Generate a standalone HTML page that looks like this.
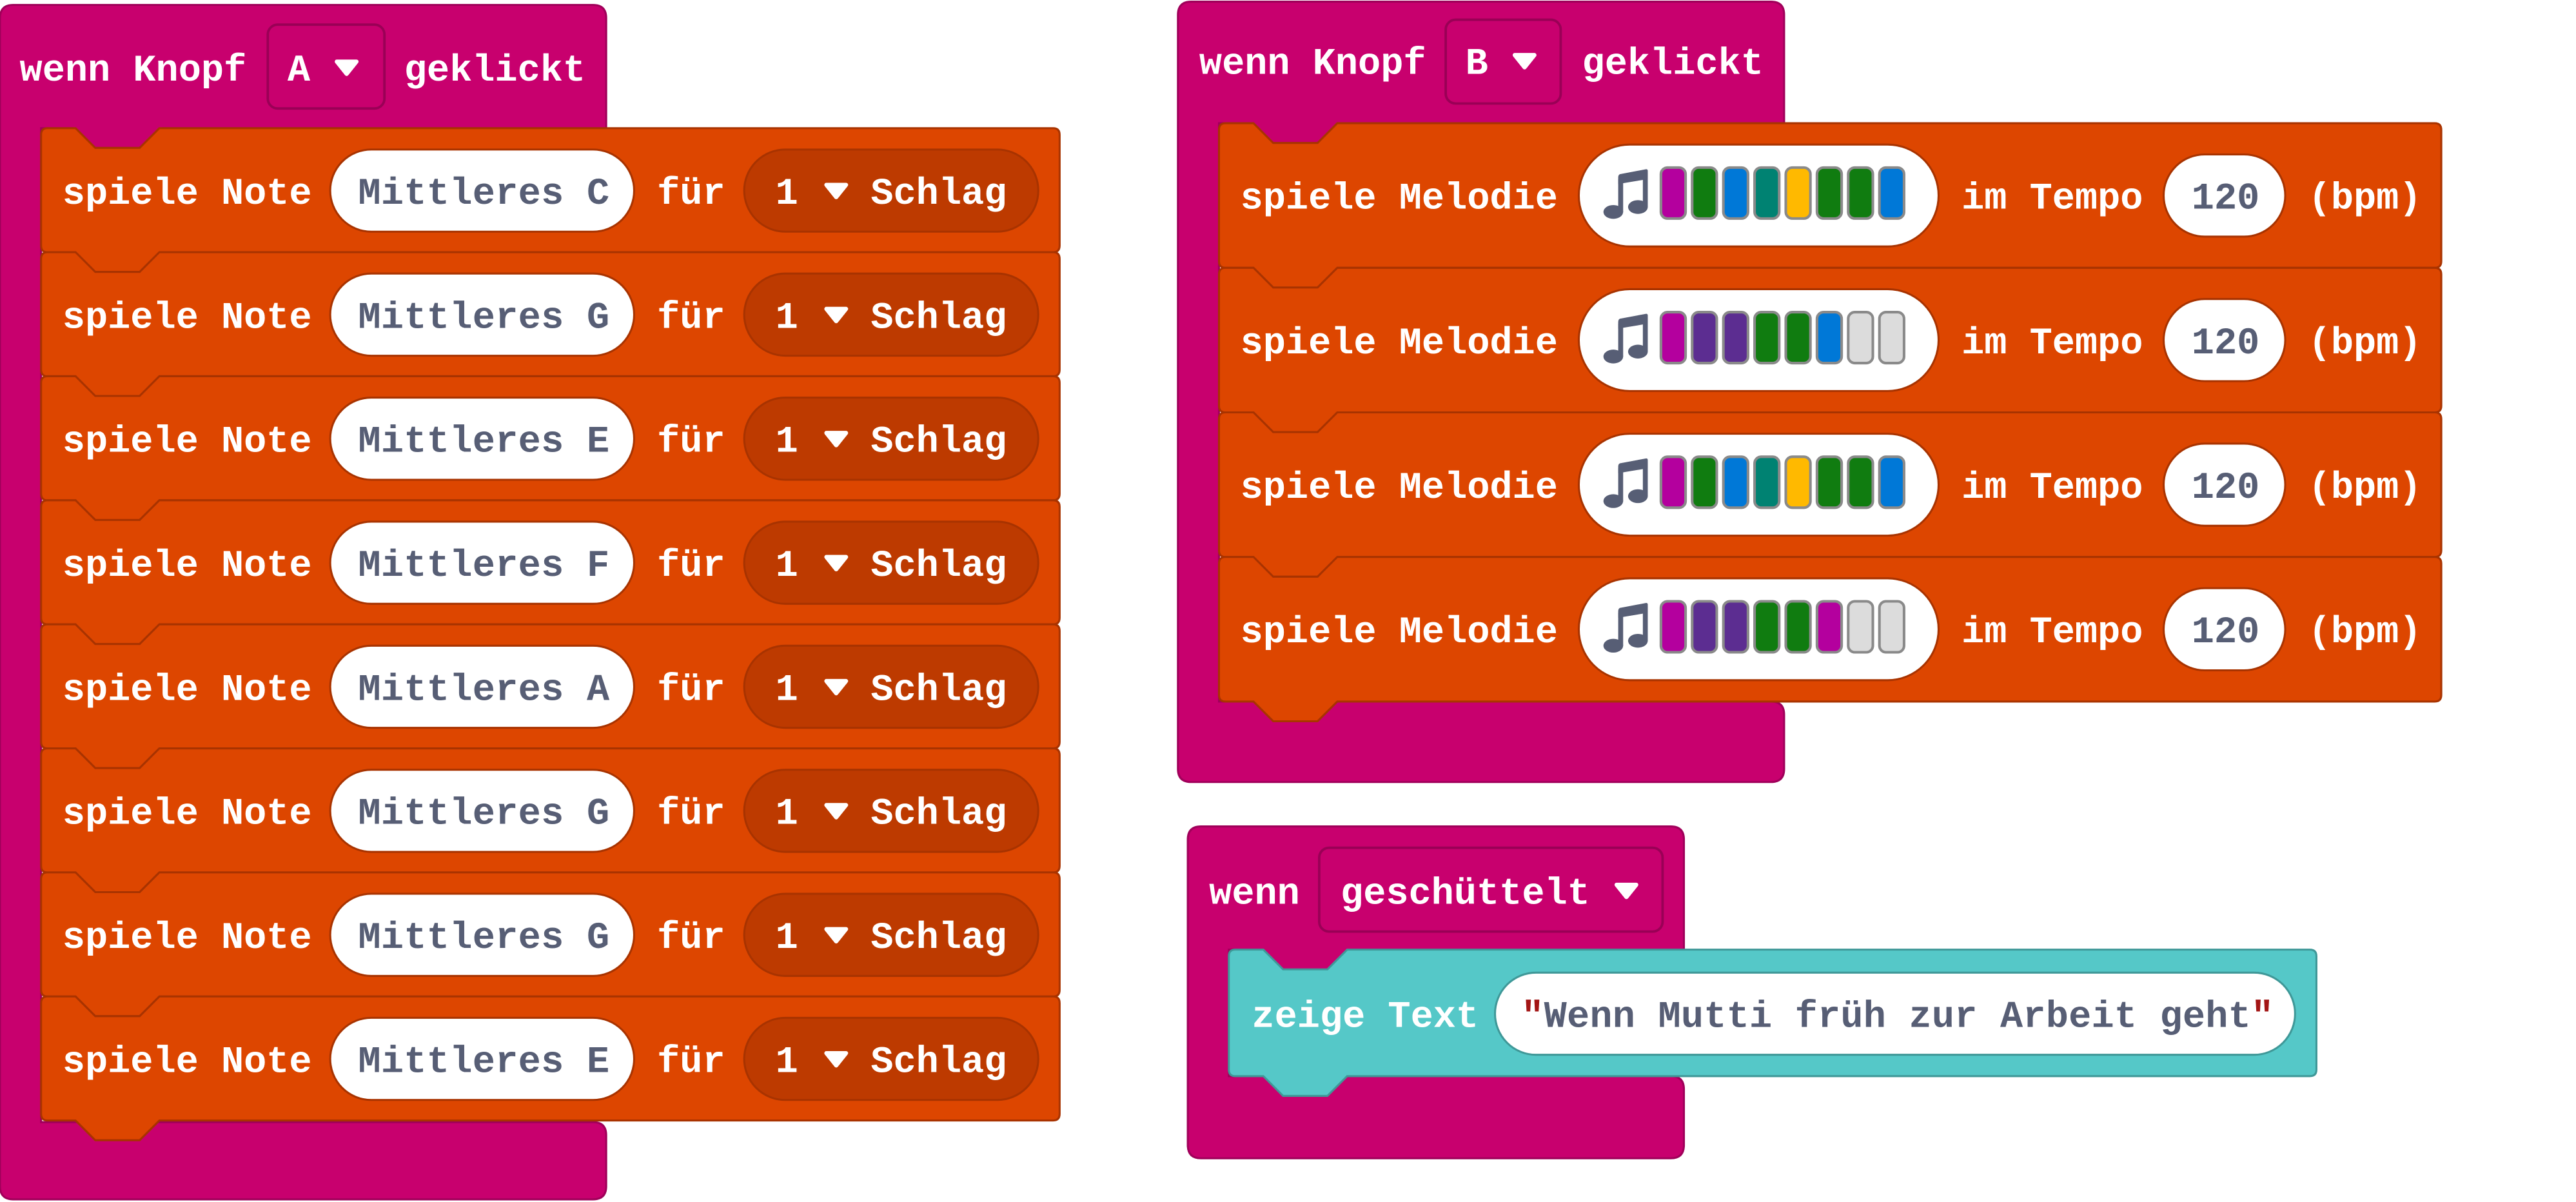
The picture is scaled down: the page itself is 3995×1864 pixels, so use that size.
<!DOCTYPE html>
<html><head><meta charset="utf-8"><style>
html,body{margin:0;padding:0;background:#fff;}
svg{display:block;}
text{font-family:"Liberation Mono","DejaVu Sans Mono",monospace;font-weight:bold;font-size:23px;}
.w{fill:#fff;}
.g{fill:#575e75;}
</style></head><body>
<svg width="3995" height="1864" viewBox="0 0 1568 731.6" preserveAspectRatio="none" xmlns="http://www.w3.org/2000/svg">
<defs>
<path id="nb" d="M0,4 Q0,0 4,0 H21 L33,12 H60 L72,0 H616 Q620,0 620,4 V71.5 Q620,75.5 616,75.5 H72 L60,87.5 H33 L21,75.5 H4 Q0,75.5 0,71.5 Z" fill="#dd4600" stroke="#a83300" stroke-width="1.2"/>
<path id="mb" d="M0,4 Q0,0 4,0 H21 L33,12 H60 L72,0 H740 Q744,0 744,4 V84 Q744,88 740,88 H72 L60,100 H33 L21,88 H4 Q0,88 0,84 Z" fill="#dd4600" stroke="#a83300" stroke-width="1.2"/>
<path id="tri" d="M-6,-3.5 L6,-3.5 L0,4 Z" fill="#fff" stroke="#fff" stroke-width="2.5" stroke-linejoin="round"/>
<g id="note" fill="#575e75">
<ellipse cx="982" cy="-6" rx="6" ry="4.2"/>
<ellipse cx="997" cy="-9" rx="6" ry="4.2"/>
<rect x="985" y="-26" width="3" height="20"/>
<rect x="1000" y="-30" width="3" height="21"/>
<path d="M985,-23 L1003,-26 L1003,-31 Q1003,-32 1002,-32 L986,-29 Q985,-28.5 985,-27 Z"/>
</g>
</defs>

<!-- Block A -->
<path d="M0,11 Q0,3 8,3 H361 Q369,3 369,11 V78 H25 V683 H361 Q369,683 369,691 V722 Q369,730 361,730 H8 Q0,730 0,722 Z" fill="#c8006e" stroke="#a0005a" stroke-width="1.2"/>
<path d="M44,77 L58,91 H87 L99,77 Z" fill="#c8006e"/>
<text x="12" y="49" class="w">wenn Knopf</text>
<rect x="163" y="15" width="71" height="51" rx="6" fill="#c8006e" stroke="#9a0056" stroke-width="1.5"/>
<text x="175" y="49" class="w">A</text>
<use href="#tri" x="211" y="41"/>
<text x="246" y="49" class="w">geklickt</text>

<g>
<use href="#nb" x="25" y="78"/>
<use href="#nb" x="25" y="153.5"/>
<use href="#nb" x="25" y="229"/>
<use href="#nb" x="25" y="304.5"/>
<use href="#nb" x="25" y="380"/>
<use href="#nb" x="25" y="455.5"/>
<use href="#nb" x="25" y="531"/>
<use href="#nb" x="25" y="606.5"/>
</g>

<g>
<text x="38" y="124" class="w">spiele Note</text>
<rect x="201" y="91" width="185" height="50" rx="25" fill="#fff" stroke="#a83300" stroke-width="1.2"/>
<text x="218" y="124" class="g" textLength="153">Mittleres C</text>
<text x="400" y="124" class="w">für</text>
<rect x="453" y="91" width="179" height="50" rx="25" fill="#bd3a00" stroke="#a83300" stroke-width="1.2"/>
<text x="472" y="124" class="w">1</text><use href="#tri" x="509" y="116"/>
<text x="530" y="124" class="w">Schlag</text>
</g>
<g transform="translate(0,75.5)">
<text x="38" y="124" class="w">spiele Note</text>
<rect x="201" y="91" width="185" height="50" rx="25" fill="#fff" stroke="#a83300" stroke-width="1.2"/>
<text x="218" y="124" class="g" textLength="153">Mittleres G</text>
<text x="400" y="124" class="w">für</text>
<rect x="453" y="91" width="179" height="50" rx="25" fill="#bd3a00" stroke="#a83300" stroke-width="1.2"/>
<text x="472" y="124" class="w">1</text><use href="#tri" x="509" y="116"/>
<text x="530" y="124" class="w">Schlag</text>
</g>
<g transform="translate(0,151)">
<text x="38" y="124" class="w">spiele Note</text>
<rect x="201" y="91" width="185" height="50" rx="25" fill="#fff" stroke="#a83300" stroke-width="1.2"/>
<text x="218" y="124" class="g" textLength="153">Mittleres E</text>
<text x="400" y="124" class="w">für</text>
<rect x="453" y="91" width="179" height="50" rx="25" fill="#bd3a00" stroke="#a83300" stroke-width="1.2"/>
<text x="472" y="124" class="w">1</text><use href="#tri" x="509" y="116"/>
<text x="530" y="124" class="w">Schlag</text>
</g>
<g transform="translate(0,226.5)">
<text x="38" y="124" class="w">spiele Note</text>
<rect x="201" y="91" width="185" height="50" rx="25" fill="#fff" stroke="#a83300" stroke-width="1.2"/>
<text x="218" y="124" class="g" textLength="153">Mittleres F</text>
<text x="400" y="124" class="w">für</text>
<rect x="453" y="91" width="179" height="50" rx="25" fill="#bd3a00" stroke="#a83300" stroke-width="1.2"/>
<text x="472" y="124" class="w">1</text><use href="#tri" x="509" y="116"/>
<text x="530" y="124" class="w">Schlag</text>
</g>
<g transform="translate(0,302)">
<text x="38" y="124" class="w">spiele Note</text>
<rect x="201" y="91" width="185" height="50" rx="25" fill="#fff" stroke="#a83300" stroke-width="1.2"/>
<text x="218" y="124" class="g" textLength="153">Mittleres A</text>
<text x="400" y="124" class="w">für</text>
<rect x="453" y="91" width="179" height="50" rx="25" fill="#bd3a00" stroke="#a83300" stroke-width="1.2"/>
<text x="472" y="124" class="w">1</text><use href="#tri" x="509" y="116"/>
<text x="530" y="124" class="w">Schlag</text>
</g>
<g transform="translate(0,377.5)">
<text x="38" y="124" class="w">spiele Note</text>
<rect x="201" y="91" width="185" height="50" rx="25" fill="#fff" stroke="#a83300" stroke-width="1.2"/>
<text x="218" y="124" class="g" textLength="153">Mittleres G</text>
<text x="400" y="124" class="w">für</text>
<rect x="453" y="91" width="179" height="50" rx="25" fill="#bd3a00" stroke="#a83300" stroke-width="1.2"/>
<text x="472" y="124" class="w">1</text><use href="#tri" x="509" y="116"/>
<text x="530" y="124" class="w">Schlag</text>
</g>
<g transform="translate(0,453)">
<text x="38" y="124" class="w">spiele Note</text>
<rect x="201" y="91" width="185" height="50" rx="25" fill="#fff" stroke="#a83300" stroke-width="1.2"/>
<text x="218" y="124" class="g" textLength="153">Mittleres G</text>
<text x="400" y="124" class="w">für</text>
<rect x="453" y="91" width="179" height="50" rx="25" fill="#bd3a00" stroke="#a83300" stroke-width="1.2"/>
<text x="472" y="124" class="w">1</text><use href="#tri" x="509" y="116"/>
<text x="530" y="124" class="w">Schlag</text>
</g>
<g transform="translate(0,528.5)">
<text x="38" y="124" class="w">spiele Note</text>
<rect x="201" y="91" width="185" height="50" rx="25" fill="#fff" stroke="#a83300" stroke-width="1.2"/>
<text x="218" y="124" class="g" textLength="153">Mittleres E</text>
<text x="400" y="124" class="w">für</text>
<rect x="453" y="91" width="179" height="50" rx="25" fill="#bd3a00" stroke="#a83300" stroke-width="1.2"/>
<text x="472" y="124" class="w">1</text><use href="#tri" x="509" y="116"/>
<text x="530" y="124" class="w">Schlag</text>
</g>

<!-- Block B -->
<path d="M717,9 Q717,1 725,1 H1078 Q1086,1 1086,9 V75 H742 V427 H1078 Q1086,427 1086,435 V468 Q1086,476 1078,476 H725 Q717,476 717,468 Z" fill="#c8006e" stroke="#a0005a" stroke-width="1.2"/>
<path d="M761,74 L775,88 H804 L816,74 Z" fill="#c8006e"/>
<text x="730" y="45" class="w">wenn Knopf</text>
<rect x="880" y="12" width="70" height="51" rx="6" fill="#c8006e" stroke="#9a0056" stroke-width="1.5"/>
<text x="892" y="45" class="w">B</text>
<use href="#tri" x="928" y="37"/>
<text x="963" y="45" class="w">geklickt</text>

<use href="#mb" x="742" y="75"/>
<use href="#mb" x="742" y="163"/>
<use href="#mb" x="742" y="251"/>
<use href="#mb" x="742" y="339"/>

<g>
<text x="755" y="127" class="w">spiele Melodie</text>
<rect x="961" y="88" width="219" height="62" rx="31" fill="#fff" stroke="#a83300" stroke-width="1.2"/>
<use href="#note" y="135"/>
<g stroke="#8a8a8a" stroke-width="1.6">
<rect x="1011" y="102" width="15" height="31" rx="4" fill="#b4009e"/>
<rect x="1030" y="102" width="15" height="31" rx="4" fill="#107c10"/>
<rect x="1049" y="102" width="15" height="31" rx="4" fill="#0078d7"/>
<rect x="1068" y="102" width="15" height="31" rx="4" fill="#008272"/>
<rect x="1087" y="102" width="15" height="31" rx="4" fill="#ffb900"/>
<rect x="1106" y="102" width="15" height="31" rx="4" fill="#107c10"/>
<rect x="1125" y="102" width="15" height="31" rx="4" fill="#107c10"/>
<rect x="1144" y="102" width="15" height="31" rx="4" fill="#0078d7"/>
</g>
<text x="1194" y="127" class="w">im Tempo</text>
<rect x="1317" y="94" width="74" height="50" rx="25" fill="#fff" stroke="#a83300" stroke-width="1.2"/>
<text x="1334" y="127" class="g">120</text>
<text x="1405" y="127" class="w">(bpm)</text>
</g>
<g transform="translate(0,88)">
<text x="755" y="127" class="w">spiele Melodie</text>
<rect x="961" y="88" width="219" height="62" rx="31" fill="#fff" stroke="#a83300" stroke-width="1.2"/>
<use href="#note" y="135"/>
<g stroke="#8a8a8a" stroke-width="1.6">
<rect x="1011" y="102" width="15" height="31" rx="4" fill="#b4009e"/>
<rect x="1030" y="102" width="15" height="31" rx="4" fill="#5c2d91"/>
<rect x="1049" y="102" width="15" height="31" rx="4" fill="#5c2d91"/>
<rect x="1068" y="102" width="15" height="31" rx="4" fill="#107c10"/>
<rect x="1087" y="102" width="15" height="31" rx="4" fill="#107c10"/>
<rect x="1106" y="102" width="15" height="31" rx="4" fill="#0078d7"/>
<rect x="1125" y="102" width="15" height="31" rx="4" fill="#dcdcdc"/>
<rect x="1144" y="102" width="15" height="31" rx="4" fill="#dcdcdc"/>
</g>
<text x="1194" y="127" class="w">im Tempo</text>
<rect x="1317" y="94" width="74" height="50" rx="25" fill="#fff" stroke="#a83300" stroke-width="1.2"/>
<text x="1334" y="127" class="g">120</text>
<text x="1405" y="127" class="w">(bpm)</text>
</g>
<g transform="translate(0,176)">
<text x="755" y="127" class="w">spiele Melodie</text>
<rect x="961" y="88" width="219" height="62" rx="31" fill="#fff" stroke="#a83300" stroke-width="1.2"/>
<use href="#note" y="135"/>
<g stroke="#8a8a8a" stroke-width="1.6">
<rect x="1011" y="102" width="15" height="31" rx="4" fill="#b4009e"/>
<rect x="1030" y="102" width="15" height="31" rx="4" fill="#107c10"/>
<rect x="1049" y="102" width="15" height="31" rx="4" fill="#0078d7"/>
<rect x="1068" y="102" width="15" height="31" rx="4" fill="#008272"/>
<rect x="1087" y="102" width="15" height="31" rx="4" fill="#ffb900"/>
<rect x="1106" y="102" width="15" height="31" rx="4" fill="#107c10"/>
<rect x="1125" y="102" width="15" height="31" rx="4" fill="#107c10"/>
<rect x="1144" y="102" width="15" height="31" rx="4" fill="#0078d7"/>
</g>
<text x="1194" y="127" class="w">im Tempo</text>
<rect x="1317" y="94" width="74" height="50" rx="25" fill="#fff" stroke="#a83300" stroke-width="1.2"/>
<text x="1334" y="127" class="g">120</text>
<text x="1405" y="127" class="w">(bpm)</text>
</g>
<g transform="translate(0,264)">
<text x="755" y="127" class="w">spiele Melodie</text>
<rect x="961" y="88" width="219" height="62" rx="31" fill="#fff" stroke="#a83300" stroke-width="1.2"/>
<use href="#note" y="135"/>
<g stroke="#8a8a8a" stroke-width="1.6">
<rect x="1011" y="102" width="15" height="31" rx="4" fill="#b4009e"/>
<rect x="1030" y="102" width="15" height="31" rx="4" fill="#5c2d91"/>
<rect x="1049" y="102" width="15" height="31" rx="4" fill="#5c2d91"/>
<rect x="1068" y="102" width="15" height="31" rx="4" fill="#107c10"/>
<rect x="1087" y="102" width="15" height="31" rx="4" fill="#107c10"/>
<rect x="1106" y="102" width="15" height="31" rx="4" fill="#b4009e"/>
<rect x="1125" y="102" width="15" height="31" rx="4" fill="#dcdcdc"/>
<rect x="1144" y="102" width="15" height="31" rx="4" fill="#dcdcdc"/>
</g>
<text x="1194" y="127" class="w">im Tempo</text>
<rect x="1317" y="94" width="74" height="50" rx="25" fill="#fff" stroke="#a83300" stroke-width="1.2"/>
<text x="1334" y="127" class="g">120</text>
<text x="1405" y="127" class="w">(bpm)</text>
</g>

<!-- Shaken block -->
<path d="M723,511 Q723,503 731,503 H1017 Q1025,503 1025,511 V578 H748 V655 H1017 Q1025,655 1025,663 V697 Q1025,705 1017,705 H731 Q723,705 723,697 Z" fill="#c8006e" stroke="#a0005a" stroke-width="1.2"/>
<path d="M767,577 L781,591 H810 L822,577 Z" fill="#c8006e"/>
<text x="736" y="550" class="w">wenn</text>
<rect x="803" y="516" width="209" height="51" rx="6" fill="#c8006e" stroke="#9a0056" stroke-width="1.5"/>
<text x="816" y="550" class="w">geschüttelt</text>
<use href="#tri" x="990" y="542"/>

<path transform="translate(748,578)" d="M0,4 Q0,0 4,0 H21 L33,12 H60 L72,0 H658 Q662,0 662,4 V73 Q662,77 658,77 H72 L60,89 H33 L21,77 H4 Q0,77 0,73 Z" fill="#55c8c8" stroke="#3f9898" stroke-width="1.2"/>
<text x="762" y="625" class="w">zeige Text</text>
<rect x="910" y="592" width="487" height="50" rx="25" fill="#fff" stroke="#3f9898" stroke-width="1.2"/>
<text x="926" y="625" class="g" textLength="458"><tspan fill="#a31515">"</tspan>Wenn Mutti früh zur Arbeit geht<tspan fill="#a31515">"</tspan></text>
</svg>
</body></html>
